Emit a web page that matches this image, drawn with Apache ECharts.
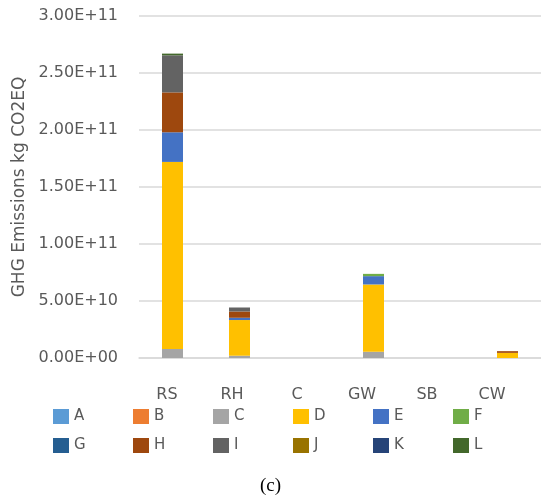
<!DOCTYPE html>
<html><head><meta charset="utf-8">
<script src="https://cdn.jsdelivr.net/npm/echarts@6/dist/echarts.min.js"></script>
<style>html,body{margin:0;padding:0;background:#fff}#c{width:541px;height:501px}</style>
</head><body><div id="c"></div>
<script>
var categories = ['RS','RH','C','GW','SB','CW'];
var seriesNames = ['A','B','C','D','E','F','G','H','I','J','K','L'];
var A = [0,0,0,0,0,0];
var B = [0,0,0,0,0,0];
var C = [8e9,2e9,0,5.5e9,0,0];
var D = [1.64e11,3.13e10,0,5.9e10,0,4.5e9];
var E = [2.6e10,2e9,0,7.3e9,0,0];
var F = [0,0,0,2e9,0,0];
var G = [0,0,0,0,0,0];
var H = [3.5e10,5.5e9,0,0,0,1.5e9];
var I = [3.25e10,3.5e9,0,0,0,0];
var J = [0,0,0,0,0,0];
var K = [0,0,0,0,0,0];
var L = [1.5e9,0,0,0,0,0];
var yTicks = [0,5e10,1e11,1.5e11,2e11,2.5e11,3e11];

var values = [A,B,C,D,E,F,G,H,I,J,K,L];
var colors = ['#5B9BD5','#ED7D31','#A5A5A5','#FFC000','#4472C4','#70AD47','#255E91','#9E480E','#636363','#997300','#264478','#43682B'];

function sci(v){
  if (v === 0) return '0.00E+00';
  var e = Math.floor(Math.log10(v));
  var m = v/Math.pow(10,e);
  if (Number(m.toFixed(2)) >= 10) { e += 1; m = v/Math.pow(10,e); }
  return m.toFixed(2) + 'E+' + (e<10?'0':'') + e;
}

var font = '"DejaVu Sans", sans-serif';
var series = seriesNames.map(function(n,i){
  return {name:n, type:'bar', stack:'s', data:values[i], barWidth:21,
    xAxisIndex:0, yAxisIndex:0, itemStyle:{color:colors[i]}};
});
var legends = seriesNames.map(function(n,i){
  return {data:[n], left:53 + (i%6)*80, top: i<6 ? 409 : 438, padding:0,
    itemWidth:16, itemHeight:15, itemGap:0, icon:'rect', selectedMode:false,
    textStyle:{fontFamily:font, fontSize:15, color:'#595959'}};
});
var chart = echarts.init(document.getElementById('c'));
chart.setOption({
  animation:false,
  color:colors,
  grid:[
    {left:139, right:-1, top:16, bottom:143, containLabel:false},
    {left:134.5, right:16.5, top:16, bottom:143, containLabel:false}
  ],
  xAxis:[
    {type:'category', data:categories, gridIndex:0,
      axisLine:{show:true, lineStyle:{color:'#d9d9d9', width:1.5}},
      axisTick:{show:false}, axisLabel:{show:false}},
    {type:'category', data:categories, gridIndex:1,
      axisLine:{show:false}, axisTick:{show:false}, splitLine:{show:false},
      axisLabel:{fontFamily:font, fontSize:16, color:'#595959', margin:29}}
  ],
  yAxis:[
    {type:'value', min:0, max:3e11, interval:5e10, gridIndex:0,
      name:'GHG Emissions kg CO2EQ', nameLocation:'middle', nameGap:109, nameRotate:90,
      nameTextStyle:{fontFamily:font, fontSize:17, color:'#595959'},
      axisLabel:{fontFamily:font, fontSize:16, color:'#595959', margin:21,
        formatter:function(v){ return sci(v); }},
      splitLine:{lineStyle:{color:'#d9d9d9', width:1.5}},
      axisLine:{show:false}, axisTick:{show:false}},
    {type:'value', min:0, max:3e11, gridIndex:1, show:false}
  ],
  legend:legends,
  title:{text:'(c)', left:'center', top:472, textStyle:{fontFamily:'"Liberation Serif", serif', fontSize:19, fontWeight:'normal', color:'#000'}},
  series:series
});
</script></body></html>
